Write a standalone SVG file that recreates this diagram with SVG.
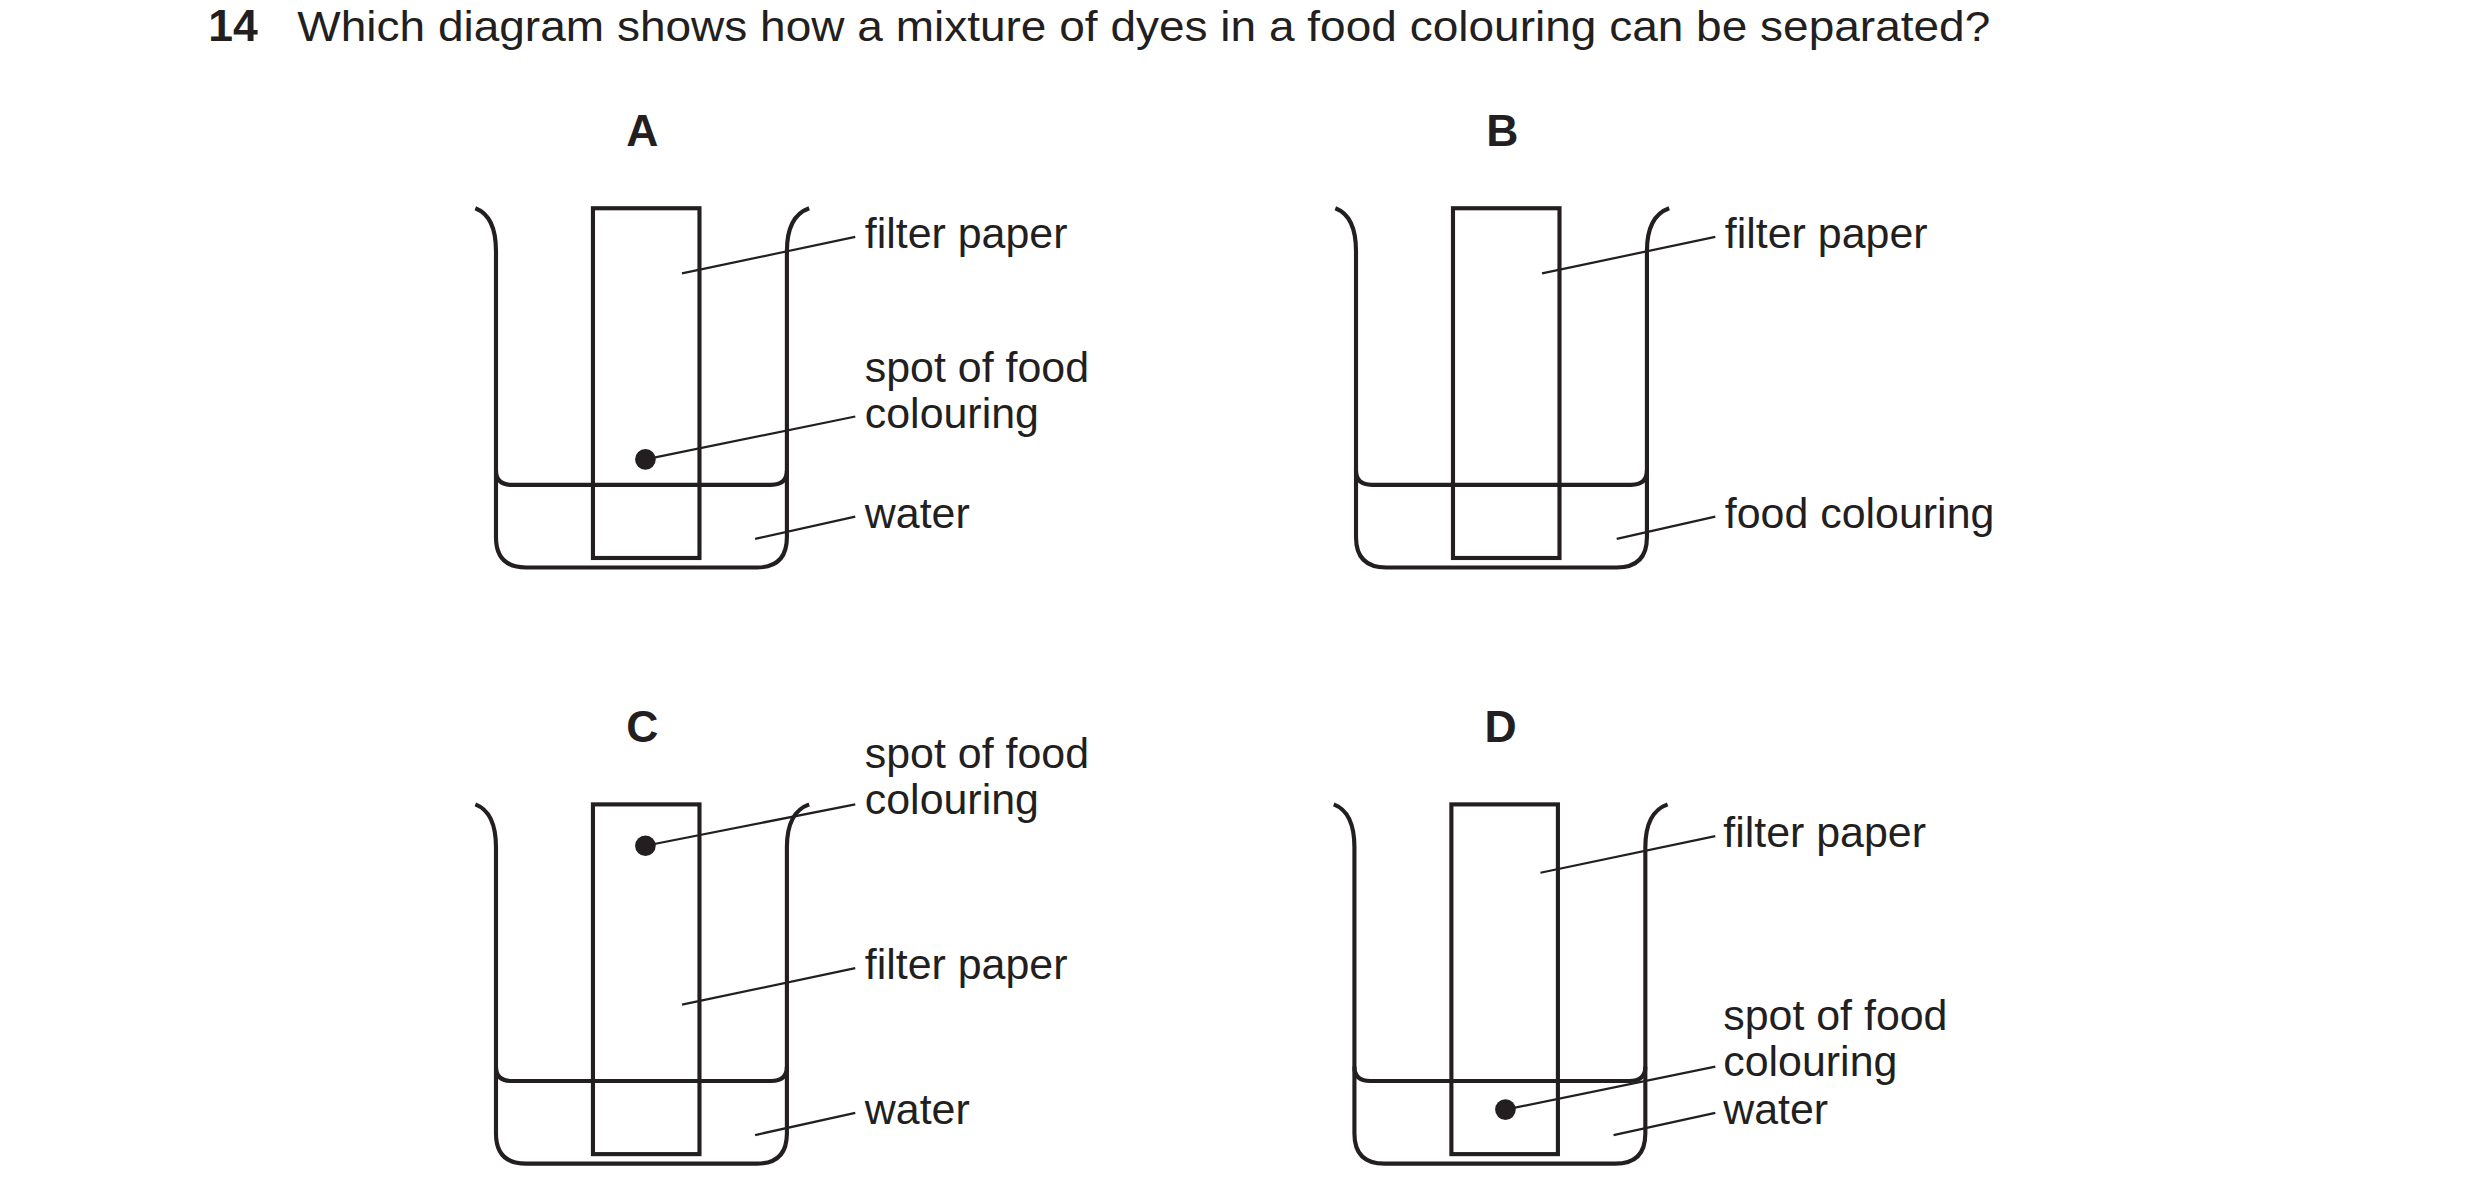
<svg xmlns="http://www.w3.org/2000/svg" width="2480" height="1201" viewBox="0 0 2480 1201">
<style>
text{font-family:"Liberation Sans",Arial,sans-serif;fill:#231f20}
.t{font-size:27px}
.b{font-size:28px;font-weight:bold}
.bk{fill:none;stroke:#231f20;stroke-width:2.6}
.ld{stroke:#231f20;stroke-width:1.4}
</style>
<defs>
<g id="beaker">
<path class="bk" d="M299,131 Q312,136 312,158 L312,338 Q312,357 331,357 L476,357 Q495,357 495,338 L495,158 Q495,136 509,131"/>
<path class="bk" d="M312,296 Q312,305 322,305 L485,305 Q495,305 495,296"/>
<rect class="bk" x="373" y="131" width="67" height="220"/>
</g>
</defs>
<rect width="2480" height="1201" fill="#fff"/>
<g transform="scale(1.5897)">
<text x="131" y="26" class="b" font-size="26">14</text>
<text x="187" y="26" class="t" textLength="1065" lengthAdjust="spacingAndGlyphs">Which diagram shows how a mixture of dyes in a food colouring can be separated?</text>
<g id="nodeA">
<text x="404" y="92" class="b" text-anchor="middle">A</text>
<use href="#beaker"/>
<circle cx="406" cy="289" r="6.5" fill="#231f20"/>
<text x="544" y="156" class="t">filter paper</text>
<text x="544" y="240" class="t">spot of food</text>
<text x="544" y="269" class="t">colouring</text>
<text x="544" y="332" class="t">water</text>
</g>
<g id="nodeB">
<text x="945" y="92" class="b" text-anchor="middle">B</text>
<use href="#beaker" x="541"/>
<text x="1085" y="156" class="t">filter paper</text>
<text x="1085" y="332" class="t">food colouring</text>
</g>
<g id="nodeC">
<text x="404" y="467" class="b" text-anchor="middle">C</text>
<use href="#beaker" y="375"/>
<circle cx="406" cy="532" r="6.5" fill="#231f20"/>
<text x="544" y="483" class="t">spot of food</text>
<text x="544" y="512" class="t">colouring</text>
<text x="544" y="616" class="t">filter paper</text>
<text x="544" y="707" class="t">water</text>
</g>
<g id="nodeD">
<text x="944" y="467" class="b" text-anchor="middle">D</text>
<use href="#beaker" x="540" y="375"/>
<circle cx="947" cy="698" r="6.5" fill="#231f20"/>
<text x="1084" y="533" class="t">filter paper</text>
<text x="1084" y="648" class="t">spot of food</text>
<text x="1084" y="677" class="t">colouring</text>
<text x="1084" y="707" class="t">water</text>
</g>
<g id="connectors">
<line class="ld" x1="429" y1="172" x2="538" y2="149"/>
<line class="ld" x1="406" y1="289" x2="538" y2="262"/>
<line class="ld" x1="475" y1="339" x2="538" y2="325"/>
<line class="ld" x1="970" y1="172" x2="1079" y2="149"/>
<line class="ld" x1="1017" y1="339" x2="1079" y2="325"/>
<line class="ld" x1="406" y1="532" x2="538" y2="506"/>
<line class="ld" x1="429" y1="632" x2="538" y2="609"/>
<line class="ld" x1="475" y1="714" x2="538" y2="700"/>
<line class="ld" x1="969" y1="549" x2="1079" y2="526"/>
<line class="ld" x1="947" y1="698" x2="1079" y2="671"/>
<line class="ld" x1="1015" y1="714" x2="1079" y2="700"/>
</g>
</g>
</svg>
